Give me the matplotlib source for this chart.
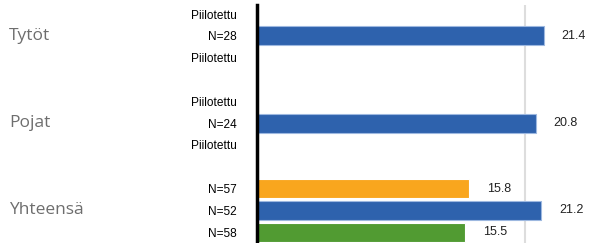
import matplotlib
matplotlib.use("Agg")
import matplotlib.pyplot as plt

# rows top to bottom, None = hidden (Piilotettu) or spacer
groups = ["Tytöt", "Pojat", "Yhteensä"]
row_labels = ["Piilotettu", "N=28", "Piilotettu", "",
              "Piilotettu", "N=24", "Piilotettu", "",
              "N=57", "N=52", "N=58"]
values = [None, 21.4, None, None,
          None, 20.8, None, None,
          15.8, 21.2, 15.5]
colors = [None, "#2E62AD", None, None,
          None, "#2E62AD", None, None,
          "#F9A61E", "#2E62AD", "#519B32"]
group_rows = [1, 5, 9]

fig = plt.figure(figsize=(5.9, 2.43), dpi=100)
ax = fig.add_axes([257/590, 0, 1 - 257/590 + 0.01, 238/243])

ys = list(range(len(row_labels)))
for y, v, c in zip(ys, values, colors):
    if v is None:
        continue
    ax.barh(y, v, height=0.87, color=c, edgecolor="#9DB8E0" if c == "#2E62AD" else "white",
            linewidth=0.8, zorder=3)
    ax.text(v + 1.35, y, f"{v:.1f}", va="center", ha="left", fontsize=9,
            family="Liberation Sans", color="#222222")

ax.set_xlim(0, 25.3)
ax.set_ylim(10.5, -0.42)
ax.set_xticks([20])
ax.grid(axis="x", color="#DDDDDD", linewidth=1.5, zorder=1)
ax.tick_params(length=0, labelbottom=False)
ax.set_yticks(ys)
ax.set_yticklabels(row_labels, fontsize=8.6, family="Liberation Sans")
ax.tick_params(axis="y", pad=14.4)
for s in ["top", "right", "bottom"]:
    ax.spines[s].set_visible(False)
ax.spines["left"].set_linewidth(2.5)
ax.spines["left"].set_color("black")
ax.spines["left"].set_zorder(4)

for g, r in zip(groups, group_rows):
    fig.text(9/590, ax.transData.transform((0, r))[1] / 243, g,
             fontsize=12.5, family="Open Sans", color="#6E6E6E", va="center", ha="left")

fig.savefig("out.png", dpi=100)
